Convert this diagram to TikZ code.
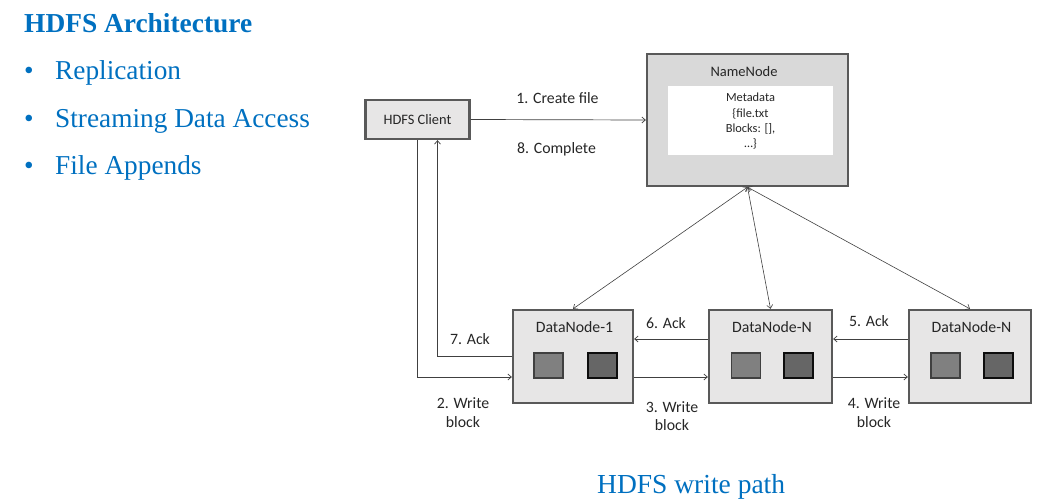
\documentclass[tikz,border=0pt]{standalone}
\usepackage{fontspec}
\setmainfont{Liberation Serif}
\newfontfamily\calfont{Carlito}
\usetikzlibrary{arrows.meta}
\definecolor{slideblue}{HTML}{0070C0}
\definecolor{boxedge}{HTML}{595959}
\definecolor{boxfill}{HTML}{E7E6E6}
\definecolor{nnfill}{HTML}{D9D9D9}
\definecolor{lineclr}{HTML}{404040}
\definecolor{txt}{HTML}{262626}
\begin{document}
\begin{tikzpicture}[x=1pt,y=-1pt,
  box/.style={draw=boxedge,line width=2.3pt,inner sep=0pt},
  arr/.style={draw=lineclr,line width=0.7pt,-{Straight Barb[length=3.5pt,width=6pt]}},
  dblarr/.style={draw=lineclr,line width=0.6pt,{Straight Barb[length=3.5pt,width=6pt]}-{Straight Barb[length=3.5pt,width=6pt]}},
  lbl/.style={text=txt,font=\calfont\fontsize{15.8}{19}\selectfont,inner sep=0pt,anchor=base},
  sqa/.style={draw=black!75,fill=black!50,line width=1.4pt,minimum width=29pt,minimum height=25pt,inner sep=0pt},
  sqb/.style={draw=black!95,fill=black!60,line width=2pt,minimum width=29pt,minimum height=25pt,inner sep=0pt},
  slide/.style={text=slideblue,inner sep=0pt,anchor=base west}]
\useasboundingbox (0,0) rectangle (1044,503);

% slide heading and bullet list
\node[slide,font=\bfseries\fontsize{27.4}{32}\selectfont] (title) at (24,33) {HDFS Architecture};
\foreach \y/\t [count=\i] in {80/Replication,127/Streaming Data Access,174/File Appends}{
  \node[slide,font=\fontsize{27.3}{31}\selectfont] (bul\i) at (24,\y) {\textbullet};
  \node[slide,font=\fontsize{27.3}{31}\selectfont] (item\i) at (55,\y) {\t};
}
\node[slide,font=\fontsize{27.5}{31}\selectfont] (caption) at (597,493) {HDFS write path};

% client and namenode
\node[box,fill=boxfill,minimum width=104pt,minimum height=39pt] (client) at (417.5,119.5) {};
\node[lbl,font=\calfont\fontsize{14.4}{17}\selectfont] (clientlbl) at (417.5,124) {HDFS Client};
\node[box,fill=nnfill,minimum width=201pt,minimum height=132pt] (nn) at (747.5,120) {};
\node[lbl,font=\calfont\fontsize{14.5}{17}\selectfont] (nnlbl) at (744,77) {NameNode};
\node[fill=white,minimum width=165pt,minimum height=69pt,inner sep=0pt] (meta) at (750.5,120.5) {};
\foreach \y/\t [count=\i] in {101/Metadata,117/\{file.txt,132/{Blocks: [],},147/\dots\}}{
  \node[lbl,font=\calfont\fontsize{12.4}{15}\selectfont] (meta\i) at (750.5,\y) {\t};
}

% datanodes with their blocks
\foreach \n/\x/\w/\t/\sa/\sb in {dn1/573/120/DataNode-1/548.5/602.5,
                                  dnm/770.5/123/DataNode-N/746/798.5,
                                  dnr/970/122/DataNode-N/945.5/998}{
  \node[box,fill=boxfill,minimum width=\w pt,minimum height=93pt] (\n) at (\x,356.5) {};
  \node[lbl] (\n lbl) at (\x+1.5,332) {\t};
  \node[sqa] (\n a) at (\sa,365.5) {};
  \node[sqb] (\n b) at (\sb,365.5) {};
}

% create file request
\draw[arr] (client.east) -- (nn.west);
\node[lbl] (l1) at (557.5,103) {1. Create file};
\node[lbl] (l8) at (556.5,153) {8. Complete};

% write pipeline
\draw[arr] (client.south) |- ([yshift=-20.5pt]dn1.west);
\draw[arr] ([yshift=-20.5pt]dn1.east) -- ([yshift=-20.5pt]dnm.west);
\draw[arr] ([yshift=-20.5pt]dnm.east) -- ([yshift=-20.5pt]dnr.west);
% acknowledgements
\draw[arr] ([yshift=17.5pt]dnr.west) -- ([yshift=17.5pt]dnm.east);
\draw[arr] ([yshift=17.5pt]dnm.west) -- ([yshift=17.5pt]dn1.east);
\draw[arr] (dn1.west) -| ([xshift=20pt]client.south);

\node[lbl] (l2a) at (463,408) {2. Write};
\node[lbl] (l2b) at (463,427) {block};
\node[lbl] (l3a) at (672,412) {3. Write};
\node[lbl] (l3b) at (672,430) {block};
\node[lbl] (l4a) at (874,408) {4. Write};
\node[lbl] (l4b) at (874,427) {block};
\node[lbl] (l5) at (869,326) {5. Ack};
\node[lbl] (l6) at (666,328) {6. Ack};
\node[lbl] (l7) at (470,344) {7. Ack};

% namenode to datanode links
\draw[dblarr] (nn.south) -- (dn1.north);
\draw[dblarr] (nn.south) -- (dnm.north);
\draw[dblarr] (nn.south) -- (dnr.north);
\end{tikzpicture}
\end{document}
